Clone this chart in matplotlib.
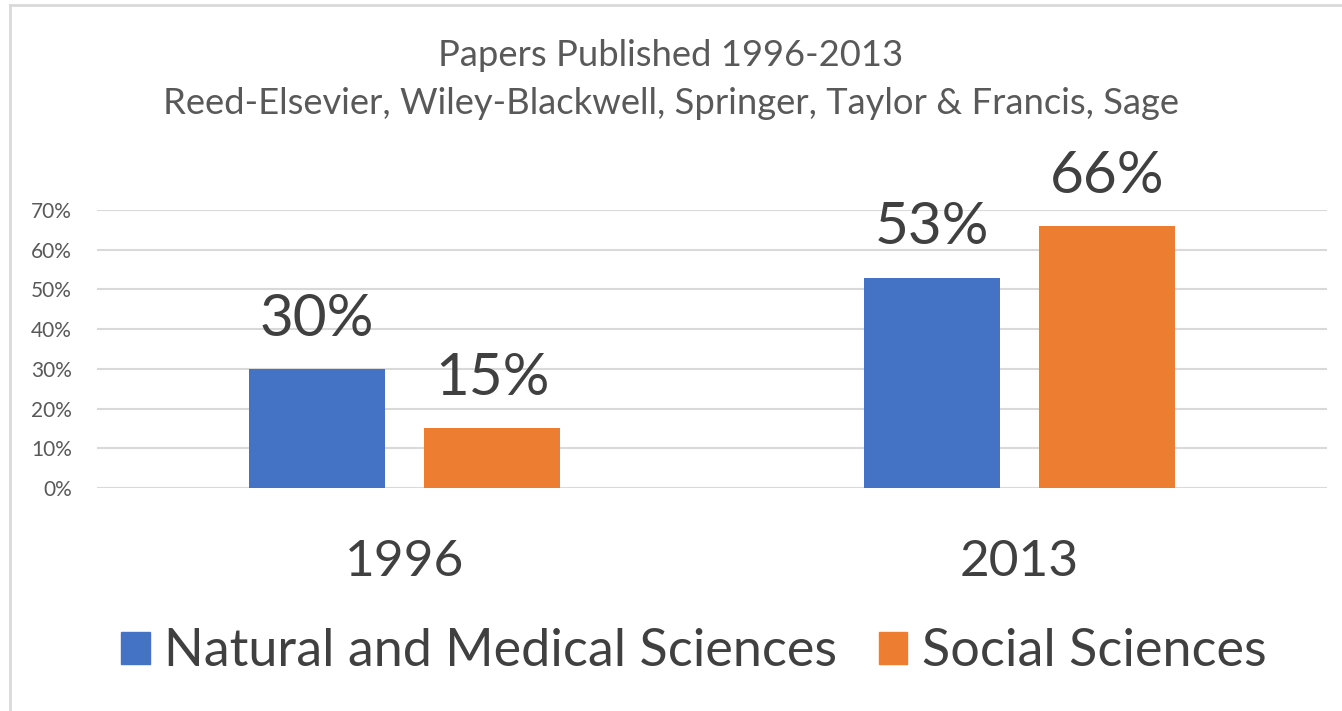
import matplotlib.pyplot as plt
import matplotlib.lines as mlines
from matplotlib.patches import Patch

plt.rcParams['font.family'] = ['Lato', 'DejaVu Sans']

years = ['1996', '2013']
series = ['Natural and Medical Sciences', 'Social Sciences']
natural = [30, 53]
social = [15, 66]
yticks = [0, 10, 20, 30, 40, 50, 60, 70]

blue = '#4472C4'
orange = '#ED7D31'
txt = '#595959'

fig = plt.figure(figsize=(13.42, 7.11), dpi=100)
ax = fig.add_axes([97/1342, 1-488/711, (1327-97)/1342, (488-210)/711])

w = 0.222
off = 0.1425
xs = range(len(years))
b1 = ax.bar([x - off for x in xs], natural, width=w, color=blue, zorder=2)
b2 = ax.bar([x + off for x in xs], social, width=w, color=orange, zorder=2)

for bars, vals in ((b1, natural), (b2, social)):
    for r, v in zip(bars, vals):
        ax.annotate(str(v) + '%', (r.get_x() + r.get_width()/2, v),
                    xytext=(0, 24), textcoords='offset points',
                    ha='center', va='baseline', fontsize=42, color='#404040',
                    annotation_clip=False)

ax.set_xlim(-0.5, 1.5)
ax.set_ylim(0, 70)
ax.set_yticks(yticks)
ax.set_yticklabels([str(t) + '%' for t in yticks], fontsize=15, color=txt)
ax.set_xticks(list(xs))
ax.set_xticklabels(years, fontsize=37, color='#404040')
ax.tick_params(axis='x', length=0, pad=37)
ax.tick_params(axis='y', length=0, pad=18)
ax.grid(axis='y', color='#D9D9D9', linewidth=1.5, zorder=0)
for s in ax.spines.values():
    s.set_visible(False)

fig.text(0.5, 1-56/711, 'Papers Published 1996-2013', ha='center', va='center',
         fontsize=26.2, color=txt)
fig.text(0.5, 1-104/711, 'Reed-Elsevier, Wiley-Blackwell, Springer, Taylor & Francis, Sage',
         ha='center', va='center', fontsize=26.2, color=txt)

handles = [Patch(color=blue), Patch(color=orange)]
fig.legend(handles, series, loc='center', bbox_to_anchor=(0.517, 1-652/711),
           ncol=2, frameon=False, fontsize=37.5, labelcolor='#404040',
           handlelength=0.55, handleheight=0.55, handletextpad=0.28, columnspacing=0.8)

fig.add_artist(mlines.Line2D([10/1342, 10/1342], [0, 1-5/711], color='#D9D9D9', linewidth=2))
fig.add_artist(mlines.Line2D([10/1342, 1], [1-5/711, 1-5/711], color='#D9D9D9', linewidth=2))

fig.savefig('out.png', dpi=100)
